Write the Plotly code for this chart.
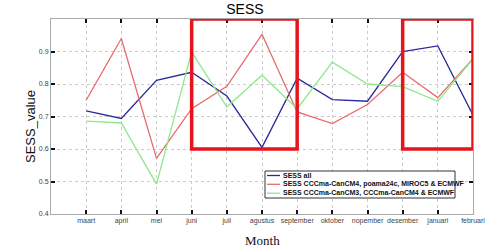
import plotly.graph_objects as go

months = ["maart", "april", "mei", "juni", "juli", "agustus", "september",
          "oktober", "nopember", "desember", "januari", "februari"]
sess_all = [0.717, 0.694, 0.811, 0.836, 0.763, 0.605, 0.818, 0.752, 0.747, 0.900, 0.917, 0.704]
sess_red = [0.750, 0.940, 0.571, 0.724, 0.793, 0.953, 0.714, 0.678, 0.737, 0.836, 0.758, 0.878]
sess_green = [0.686, 0.680, 0.492, 0.899, 0.729, 0.827, 0.724, 0.867, 0.800, 0.792, 0.747, 0.877]
names = ["SESS all",
         "SESS CCCma-CanCM4, poama24c, MIROC5 & ECMWF",
         "SESS CCCma-CanCM3, CCCma-CanCM4 & ECMWF"]
colors = ["#2a2a9a", "#e86a6a", "#8ee88e"]
ytick_vals = [0.4, 0.5, 0.6, 0.7, 0.8, 0.9]

W, H = 503, 250
L, R, T, B = 51, 30, 19, 36
pw, ph = W - L - R, H - T - B


def px(x):
    return (x - L) / pw


def py(y):
    return (H - B - y) / ph


fig = go.Figure()
for vals, nm, c in zip([sess_all, sess_red, sess_green], names, colors):
    fig.add_trace(go.Scatter(x=list(range(len(months))), y=vals, mode="lines",
                             name=nm, line=dict(color=c, width=1.3), showlegend=False))

# highlight boxes
fig.add_shape(type="rect", x0=3, x1=6, y0=0.6, y1=1.0, xref="x", yref="y",
              line=dict(color="#e8141c", width=3.5))
fig.add_shape(type="rect", x0=9, x1=11, y0=0.6, y1=1.0, xref="x", yref="y",
              line=dict(color="#e8141c", width=3.5))

# compact legend drawn manually
fig.add_shape(type="rect", xref="paper", yref="paper",
              x0=px(265), x1=px(455), y0=py(198), y1=py(171),
              line=dict(color="#333", width=1), fillcolor="white", layer="above")
row_y = [175.5, 184.3, 193.2]
for nm, c, ry in zip(names, colors, row_y):
    fig.add_shape(type="line", xref="paper", yref="paper",
                  x0=px(267), x1=px(280), y0=py(ry), y1=py(ry),
                  line=dict(color=c, width=1.3), layer="above")
    fig.add_annotation(text="<b>" + nm + "</b>", xref="paper", yref="paper",
                       x=px(281), y=py(ry), xanchor="left", yanchor="middle",
                       showarrow=False,
                       font=dict(family="Liberation Sans", size=7, color="#111"))

fig.update_layout(
    width=W, height=H,
    margin=dict(l=L, r=R, t=T, b=B),
    paper_bgcolor="white", plot_bgcolor="white",
    title=dict(text="SESS", x=0.487, xanchor="center", y=0.965, yanchor="middle",
               font=dict(family="Liberation Sans", size=14, color="black")),
    font=dict(family="Liberation Sans", color="#333"),
    showlegend=False,
    xaxis=dict(range=[-1, 11], tickvals=list(range(len(months))), ticktext=months,
               showgrid=True, gridcolor="#cccccc", griddash="dot", gridwidth=1,
               showline=True, linecolor="#aaaaaa", mirror="ticks",
               ticks="inside", ticklen=4, tickcolor="#111", tickwidth=1.5,
               tickfont=dict(size=7, color="#444"), zeroline=False),
    yaxis=dict(range=[0.4, 1.0], tickvals=ytick_vals,
               ticktext=[str(v) for v in ytick_vals],
               showgrid=True, gridcolor="#cccccc", griddash="dot", gridwidth=1,
               showline=True, linecolor="#aaaaaa", mirror="ticks",
               ticks="inside", ticklen=4, tickcolor="#111", tickwidth=1.5,
               tickfont=dict(size=7, color="#444"), zeroline=False),
)
fig.add_annotation(text="SESS_value", xref="paper", yref="paper",
                   x=px(30), y=py(127), textangle=-90, showarrow=False,
                   xanchor="center", yanchor="middle",
                   font=dict(family="Liberation Sans", size=13, color="#111"))
fig.add_annotation(text="Month", x=px(262), y=py(240), xref="paper", yref="paper",
                   showarrow=False, xanchor="center", yanchor="middle",
                   font=dict(family="Liberation Serif", size=13, color="#111"))
fig.write_html("out.html")
